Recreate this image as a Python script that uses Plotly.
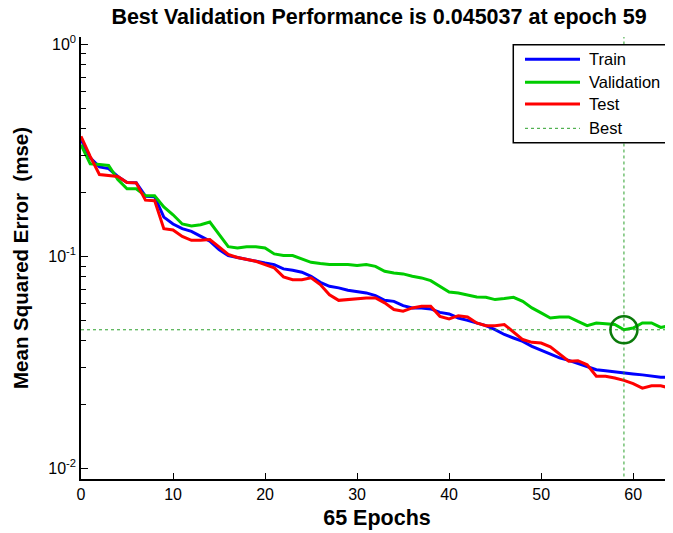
import plotly.graph_objects as go

epochs = list(range(0, 66))

train = [0.356, 0.291, 0.264, 0.259, 0.238, 0.223, 0.222, 0.192, 0.191, 0.153,
         0.142, 0.135, 0.131, 0.124, 0.118, 0.1075, 0.1007, 0.0987, 0.0965, 0.0947,
         0.093, 0.0914, 0.0872, 0.0859, 0.0841, 0.0805, 0.0754, 0.0722, 0.0710, 0.0692,
         0.0684, 0.0672, 0.0653, 0.0620, 0.0613, 0.0585, 0.0571, 0.0571, 0.0565, 0.0544,
         0.0535, 0.0512, 0.0499, 0.0485, 0.0471, 0.0451, 0.0428, 0.0412, 0.0397, 0.0376,
         0.0360, 0.0344, 0.0332, 0.0323, 0.0312, 0.0301, 0.0292, 0.0289, 0.0285, 0.0282,
         0.0279, 0.0276, 0.0272, 0.0269, 0.0269, 0.0268]

validation = [0.336, 0.273, 0.271, 0.268, 0.230, 0.208, 0.208, 0.193, 0.193, 0.171,
              0.157, 0.142, 0.139, 0.141, 0.145, 0.127, 0.111, 0.1095, 0.111, 0.111,
              0.1095, 0.1026, 0.1008, 0.1008, 0.0972, 0.0937, 0.0924, 0.0914, 0.0914, 0.0914,
              0.0904, 0.0914, 0.0897, 0.0850, 0.0835, 0.0826, 0.0805, 0.0791, 0.0768, 0.0722,
              0.0679, 0.0672, 0.0655, 0.0643, 0.0641, 0.0625, 0.0632, 0.0641, 0.0613, 0.0571,
              0.0541, 0.0512, 0.0518, 0.0518, 0.0493, 0.0471, 0.0485, 0.0480, 0.0477, 0.045037,
              0.0459, 0.0485, 0.0485, 0.0462, 0.0471, 0.0470]

test = [0.368, 0.296, 0.243, 0.240, 0.238, 0.223, 0.222, 0.184, 0.183, 0.135,
        0.133, 0.124, 0.119, 0.119, 0.120, 0.1107, 0.102, 0.0987, 0.0965, 0.0947,
        0.0914, 0.0882, 0.0800, 0.0776, 0.0776, 0.0791, 0.0736, 0.0659, 0.0620, 0.0625,
        0.0632, 0.0636, 0.0636, 0.0603, 0.0561, 0.0551, 0.0571, 0.0581, 0.0581, 0.0521,
        0.0507, 0.0525, 0.0518, 0.0485, 0.0471, 0.0471, 0.0477, 0.0439, 0.0405, 0.0393,
        0.0390, 0.0374, 0.0347, 0.0320, 0.0322, 0.0308, 0.0272, 0.0272, 0.0267, 0.0260,
        0.0251, 0.0239, 0.0245, 0.0245, 0.0239, 0.0238]

best_epoch = 59
best_perf = 0.045037
max_epoch = 65

series_names = ["Train", "Validation", "Test", "Best"]
series_colors = ["#0000ff", "#00cc00", "#ff0000", "#2ca02c"]

x_tickvals = [0, 10, 20, 30, 40, 50, 60]
y_tickvals = [0.01, 0.1, 1]
y_ticktext = ["10<sup>-2</sup>", "10<sup>-1</sup>", "10<sup>0</sup>"]
y_minor_tickvals = [m * d for d in (0.01, 0.1) for m in range(2, 10)]

FONT = "Liberation Sans, Arial, Helvetica, sans-serif"

fig = go.Figure()
for name, vals, col in zip(series_names[:3], [train, validation, test], series_colors[:3]):
    fig.add_trace(go.Scatter(x=epochs, y=vals, mode="lines", name=name, showlegend=False,
                             line=dict(color=col, width=3)))
fig.add_trace(go.Scatter(x=[0, max_epoch, None, best_epoch, best_epoch],
                         y=[best_perf, best_perf, None, 1e-3, 10],
                         mode="lines", name="Best", showlegend=False,
                         line=dict(color=series_colors[3], width=1, dash="dot")))
fig.add_trace(go.Scatter(x=[best_epoch], y=[best_perf], mode="markers", showlegend=False,
                         marker=dict(symbol="circle-open", size=27,
                                     line=dict(color="#0a7a0a", width=2.5), color="#0a7a0a")))

# legend box (drawn in paper coordinates)
leg_x0, leg_x1, leg_y0, leg_y1 = 0.7302, 0.9985, 0.7609, 0.9826
row_y = [0.9495, 0.8975, 0.8484, 0.7934]
shapes = [dict(type="rect", xref="paper", yref="paper", x0=leg_x0, x1=leg_x1, y0=leg_y0, y1=leg_y1,
               fillcolor="white", line=dict(color="black", width=1.5), layer="above")]
annotations = []
for i, (name, col) in enumerate(zip(series_names, series_colors)):
    is_best = name == "Best"
    shapes.append(dict(type="line", xref="paper", yref="paper", x0=0.75, x1=0.8429,
                       y0=row_y[i], y1=row_y[i], layer="above",
                       line=dict(color=col, width=1 if is_best else 3, dash="dot" if is_best else "solid")))
    annotations.append(dict(xref="paper", yref="paper", x=0.8542, y=row_y[i], text=name,
                            showarrow=False, xanchor="left", yanchor="middle",
                            font=dict(size=16.5, family=FONT, color="black")))

fig.update_layout(
    width=665, height=525,
    margin=dict(l=73, r=0, t=29, b=54, autoexpand=False),
    paper_bgcolor="white", plot_bgcolor="white",
    font=dict(family=FONT, color="black", size=16),
    title=dict(text="<b>Best Validation Performance is 0.045037 at epoch 59</b>",
               font=dict(size=21.5, family=FONT, color="black"),
               x=0.558, xanchor="center", y=0.983, yanchor="middle", xref="container"),
    showlegend=False,
    shapes=shapes,
    annotations=annotations,
)
fig.update_xaxes(range=[0, 64.33], tickvals=x_tickvals, ticks="inside", ticklen=6,
                 tickwidth=1.2, tickcolor="black", showline=True, linecolor="black",
                 linewidth=1.5, showgrid=False, zeroline=False, automargin=False,
                 tickfont=dict(size=16, family=FONT),
                 title=dict(text="<b>65 Epochs</b>", font=dict(size=21.5, family=FONT), standoff=8))
fig.update_yaxes(type="log", range=[-2.05, 0.034], tickvals=y_tickvals, ticktext=y_ticktext,
                 ticks="inside", ticklen=7, tickwidth=1.2, tickcolor="black",
                 showline=True, linecolor="black", linewidth=1.5, showgrid=False,
                 zeroline=False, automargin=False, tickfont=dict(size=16, family=FONT),
                 minor=dict(tickvals=y_minor_tickvals, ticks="inside", ticklen=5,
                            tickcolor="black", tickwidth=1.2, showgrid=False),
                 title=dict(text="<b>Mean Squared Error\u00a0\u00a0(mse)</b>",
                            font=dict(size=20.5, family=FONT), standoff=14))

fig.write_html("out.html")
